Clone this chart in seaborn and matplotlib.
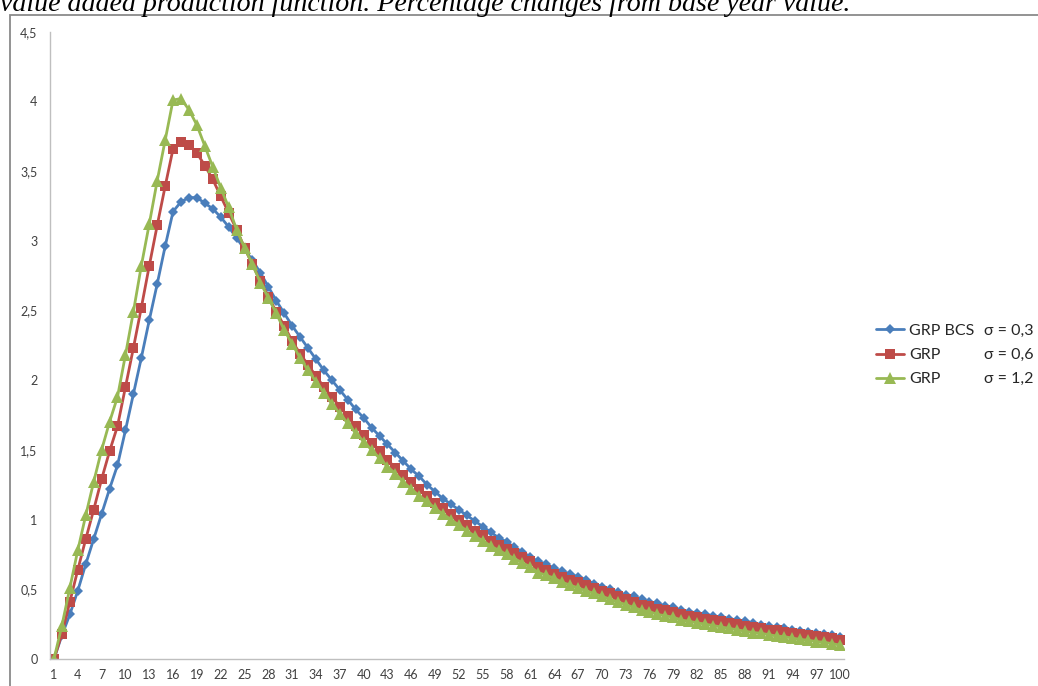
import numpy as np
import pandas as pd
import matplotlib
matplotlib.use("Agg")
import matplotlib.pyplot as plt
import seaborn as sns
from matplotlib.patches import Rectangle
from matplotlib.lines import Line2D
from matplotlib.ticker import FixedLocator, FixedFormatter

# ---------------- data ----------------
periods = list(range(1, 101))

grp_bcs_03 = [0.00, 0.17, 0.32, 0.49, 0.68, 0.86, 1.04, 1.22, 1.39, 1.64,
              1.90, 2.16, 2.43, 2.69, 2.96, 3.21, 3.28, 3.31, 3.31, 3.27,
              3.23, 3.17, 3.10, 3.02, 2.94, 2.86, 2.77, 2.67, 2.57, 2.48,
              2.39, 2.31, 2.23, 2.15, 2.07, 2.00, 1.93, 1.86, 1.79, 1.73,
              1.66, 1.60, 1.54, 1.48, 1.42, 1.36, 1.31, 1.25, 1.20, 1.15,
              1.11, 1.07, 1.03, 0.99, 0.95, 0.91, 0.87, 0.84, 0.80, 0.77,
              0.73, 0.70, 0.68, 0.65, 0.63, 0.61, 0.59, 0.57, 0.54, 0.52,
              0.50, 0.48, 0.46, 0.45, 0.43, 0.41, 0.40, 0.38, 0.37, 0.35,
              0.34, 0.33, 0.32, 0.31, 0.30, 0.29, 0.28, 0.27, 0.26, 0.245,
              0.24, 0.23, 0.22, 0.21, 0.20, 0.195, 0.185, 0.18, 0.17, 0.16]

grp_06 = [0.00, 0.18, 0.41, 0.64, 0.86, 1.07, 1.29, 1.49, 1.67, 1.95,
          2.23, 2.52, 2.82, 3.11, 3.39, 3.66, 3.71, 3.69, 3.63, 3.54,
          3.44, 3.32, 3.20, 3.08, 2.95, 2.83, 2.71, 2.60, 2.49, 2.39,
          2.28, 2.19, 2.11, 2.03, 1.95, 1.88, 1.81, 1.74, 1.67, 1.61,
          1.55, 1.49, 1.43, 1.37, 1.32, 1.27, 1.22, 1.17, 1.12, 1.08,
          1.04, 1.00, 0.96, 0.92, 0.89, 0.85, 0.82, 0.79, 0.76, 0.73,
          0.70, 0.66, 0.64, 0.61, 0.59, 0.57, 0.55, 0.53, 0.51, 0.49,
          0.47, 0.45, 0.43, 0.41, 0.39, 0.38, 0.36, 0.35, 0.34, 0.32,
          0.31, 0.30, 0.29, 0.28, 0.27, 0.26, 0.25, 0.24, 0.23, 0.22,
          0.21, 0.205, 0.195, 0.185, 0.18, 0.17, 0.165, 0.155, 0.15, 0.135]

grp_12 = [0.00, 0.24, 0.51, 0.78, 1.03, 1.27, 1.50, 1.70, 1.88, 2.18,
          2.49, 2.82, 3.12, 3.43, 3.72, 4.01, 4.02, 3.94, 3.83, 3.68,
          3.53, 3.38, 3.24, 3.08, 2.95, 2.83, 2.70, 2.59, 2.48, 2.36,
          2.26, 2.16, 2.07, 1.99, 1.91, 1.83, 1.76, 1.69, 1.62, 1.56,
          1.50, 1.44, 1.38, 1.33, 1.27, 1.22, 1.17, 1.13, 1.08, 1.04,
          1.00, 0.96, 0.92, 0.88, 0.85, 0.81, 0.78, 0.75, 0.72, 0.69,
          0.66, 0.62, 0.60, 0.58, 0.55, 0.53, 0.51, 0.49, 0.47, 0.45,
          0.43, 0.41, 0.39, 0.37, 0.35, 0.34, 0.32, 0.31, 0.30, 0.28,
          0.27, 0.26, 0.25, 0.24, 0.23, 0.22, 0.21, 0.20, 0.19, 0.185,
          0.175, 0.165, 0.16, 0.15, 0.14, 0.135, 0.125, 0.12, 0.11, 0.10]

series_keys = ["s03", "s06", "s12"]
legend_names = ["GRP BCS", "GRP", "GRP"]
sigma_labels = ["σ = 0,3", "σ = 0,6", "σ = 1,2"]
y_ticks = [0, 0.5, 1, 1.5, 2, 2.5, 3, 3.5, 4, 4.5]
y_tick_labels = ["0", "0,5", "1", "1,5", "2", "2,5", "3", "3,5", "4", "4,5"]
x_tick_values = list(range(1, 101, 3))
title_text = "value added production function. Percentage changes from base year value."

# ---------------- style ----------------
colors = {"s03": "#4A7EBB", "s06": "#BE4B48", "s12": "#98B954"}
markers = {"s03": "D", "s06": "s", "s12": "^"}
msizes = {"s03": 5.5, "s06": 6.5, "s12": 8}

sns.set_style("white")
plt.rcParams["font.family"] = ["Lato", "DejaVu Sans"]

W, H = 1038, 686
fig = plt.figure(figsize=(W / 100, H / 100), dpi=100)
ax = fig.add_axes([50 / W, 1 - 659 / H, (844 - 50) / W, (659 - 31.7) / H])

df = pd.DataFrame({
    "period": periods * 3,
    "value": grp_bcs_03 + grp_06 + grp_12,
    "series": ["s03"] * 100 + ["s06"] * 100 + ["s12"] * 100,
})

for key in series_keys:
    sub = df[df["series"] == key]
    sns.lineplot(data=sub, x="period", y="value", color=colors[key],
                 marker=markers[key], markersize=msizes[key],
                 markeredgewidth=0, linewidth=2.0, ax=ax, legend=False)

ax.set_xlim(0.5, 100.5)
ax.set_ylim(0, 4.5)
ax.set_xlabel("")
ax.set_ylabel("")

axis_gray = "#BFBFBF"
for side in ["top", "right"]:
    ax.spines[side].set_visible(False)
for side in ["left", "bottom"]:
    ax.spines[side].set_color(axis_gray)
    ax.spines[side].set_linewidth(1.0)

ax.yaxis.set_major_locator(FixedLocator(y_ticks))
ax.yaxis.set_major_formatter(FixedFormatter(y_tick_labels))
ax.tick_params(axis="y", which="major", length=4, width=1, color=axis_gray,
               direction="out", labelsize=9, labelcolor="#404040", pad=5)

ax.xaxis.set_major_locator(FixedLocator(x_tick_values))
ax.xaxis.set_major_formatter(FixedFormatter([str(v) for v in x_tick_values]))
ax.xaxis.set_minor_locator(FixedLocator(np.arange(0.5, 101, 1.0)))
ax.tick_params(axis="x", which="major", length=0, labelsize=9,
               labelcolor="#404040", pad=7)
ax.tick_params(axis="x", which="minor", length=4.5, width=1, color=axis_gray,
               direction="out")
ax.grid(False)

# legend
handles = [Line2D([0], [0], color=colors[k], marker=markers[k],
                  markersize=msizes[k], markeredgewidth=0, linewidth=2.0)
           for k in series_keys]
leg = fig.legend(handles, legend_names, loc="center left",
                 bbox_to_anchor=(870 / W, 1 - 355 / H), frameon=False,
                 fontsize=11.5, handlelength=1.75, handletextpad=0.28,
                 labelspacing=0.62, borderaxespad=0)
for t in leg.get_texts():
    t.set_color("#262626")

fig.canvas.draw()
renderer = fig.canvas.get_renderer()
for t, s in zip(leg.get_texts(), sigma_labels):
    bb = t.get_window_extent(renderer)
    yc = (bb.y0 + bb.y1) / 2 / H
    fig.text(984 / W, yc, s, fontsize=11.5, color="#262626", va="center",
             ha="left", family=["Lato", "DejaVu Sans"])

# outer frame of the embedded chart
fig.patches.append(Rectangle((10 / W, -0.2), 1.5, (1 - 14.7 / H) + 0.2,
                             transform=fig.transFigure, fill=False,
                             edgecolor="#8A8A8A", linewidth=1.3))

# caption line above the chart (cut by the top edge, as in the source page)
title = fig.text(0.0, 1 - 11 / H, title_text, family="Liberation Serif",
                 style="italic", fontsize=15, color="#000000", va="baseline",
                 ha="left")
fig.canvas.draw()
w = title.get_window_extent(renderer).width
title.set_fontsize(15 * 856 / w)

fig.savefig("out.png", dpi=100)
